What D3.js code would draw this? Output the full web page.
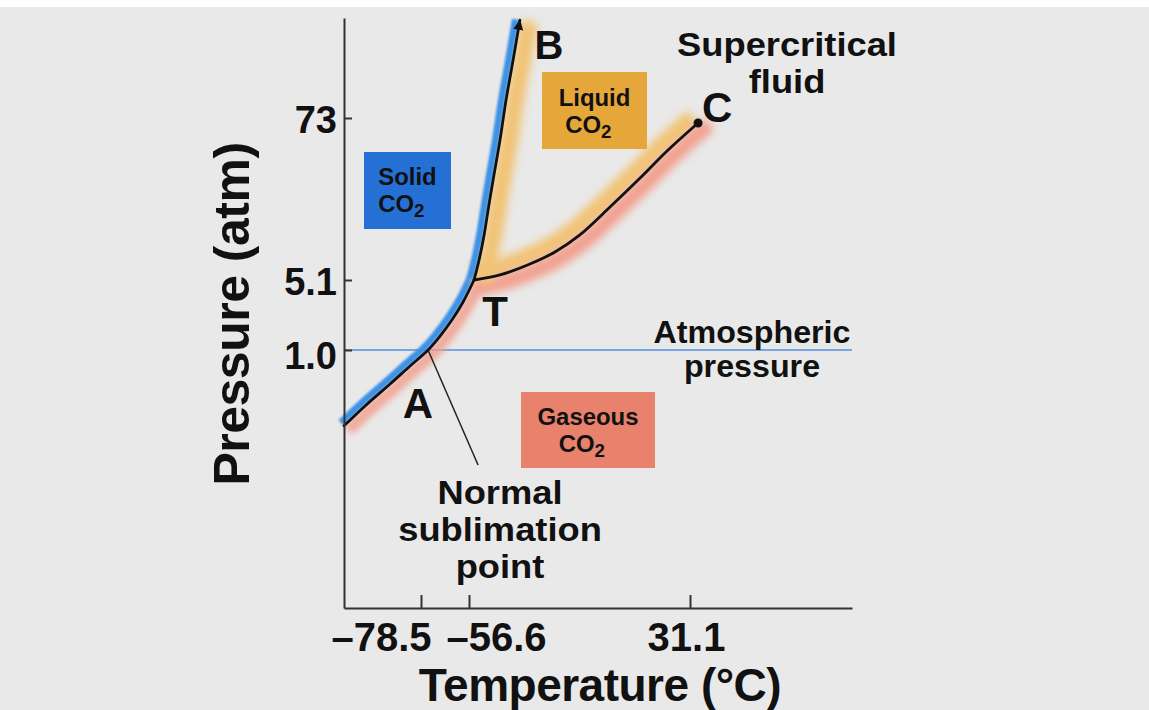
<!DOCTYPE html>
<html><head><meta charset="utf-8">
<script src="https://cdn.jsdelivr.net/npm/d3@7"></script>
<style>
body{margin:0;background:#fff}
svg{display:block}
text{font-family:"Liberation Sans",Arial,Helvetica,sans-serif;font-weight:bold;fill:#111}
</style>
</head><body>
<svg id="chart" width="1149" height="710"></svg>
<script>
// ---- data (temperature °C, pressure atm) ----
const xTicks = [-78.5, -56.6, 31.1];
const xTickLabels = ["–78.5", "–56.6", "31.1"];
const yTicks = [1.0, 5.1, 73];
const yTickLabels = ["1.0", "5.1", "73"];

const sublimationTemp = [-113.6, -104.0, -92.6, -83.5, -75.3, -69.8, -64.4, -59.3, -54.6];
const sublimationPres = [0.171, 0.272, 0.453, 0.689, 1.0, 1.385, 2.01, 3.06, 5.1];

const meltingTemp = [-54.6, -52.6, -50.6, -48.7, -46.7, -44.3, -41.9, -39.1, -36.4];
const meltingPres = [5.1, 7.08, 10.7, 17.5, 28.6, 50.8, 98.0, 189, 365];

const vaporTemp = [-54.6, -44.3, -32.4, -22.5, -12.6, -0.65, 11.3, 22.4, 34.3];
const vaporPres = [5.1, 5.54, 6.63, 8.08, 10.7, 16.9, 27.2, 43.1, 67.2];

const pointA = [-75.3, 1.0];
const pointT = [-54.6, 5.1];
const pointC = [34.3, 67.2];
const pointB = [-36.4, 365];
const leaderEnd = [-53.0, 0.0687];
const atmPressure = 1.0;

const xDomain = [-113.6, -78.5, -56.6, 31.1, 95.4];
const yDomain = [0.00246, 1, 5.1, 73, 377.5];

// ---- scales ----
const x = d3.scaleLinear().domain(xDomain).range([344, 421, 469, 690, 852]);
const y = d3.scaleLog().domain(yDomain).range([608, 350, 280, 118, 18]);

const svg = d3.select("#chart");
svg.append("rect").attr("x", 0).attr("y", 7).attr("width", 1149).attr("height", 703).attr("fill", "#e9e9e9");

const defs = svg.append("defs");
[0.8, 2, 3, 4].forEach((b, i) => {
  defs.append("filter").attr("id", "blur" + i)
    .attr("filterUnits", "userSpaceOnUse").attr("x", 0).attr("y", 0).attr("width", 1149).attr("height", 710)
    .append("feGaussianBlur").attr("stdDeviation", b);
});
defs.append("marker").attr("id", "arrow").attr("viewBox", "0 -5 10 10")
  .attr("refX", 9).attr("refY", 0).attr("markerWidth", 11).attr("markerHeight", 11)
  .attr("markerUnits", "userSpaceOnUse").attr("orient", "auto")
  .append("path").attr("d", "M0,-4.5L10,0L0,4.5Z").attr("fill", "#111");

// atmospheric pressure line
svg.append("line")
  .attr("x1", x(xDomain[0])).attr("x2", x(xDomain[4]))
  .attr("y1", y(atmPressure)).attr("y2", y(atmPressure))
  .attr("stroke", "#4f8fd8").attr("stroke-width", 1.6);

// curves
const curveGen = d3.line().x(d => x(d[0])).y(d => y(d[1])).curve(d3.curveCatmullRom.alpha(0.5));
const zip = (a, b) => a.map((v, i) => [v, b[i]]);
const subl = zip(sublimationTemp, sublimationPres);
const melt = zip(meltingTemp, meltingPres);
const vap = zip(vaporTemp, vaporPres);

const glowG = svg.append("g");
const lineG = svg.append("g");

function offsetPts(node, dist, extend) {
  const L = node.getTotalLength();
  const n = Math.max(2, Math.ceil(L / 2));
  const pts = [];
  let tx = 1, ty = 0;
  for (let i = 0; i <= n; i++) {
    const s = L * i / n;
    const p = node.getPointAtLength(s);
    const a = node.getPointAtLength(Math.max(0, s - 1.5));
    const b = node.getPointAtLength(Math.min(L, s + 1.5));
    tx = b.x - a.x; ty = b.y - a.y;
    const m = Math.hypot(tx, ty) || 1; tx /= m; ty /= m;
    pts.push([p.x - ty * dist, p.y + tx * dist]);
  }
  if (extend) {
    const last = pts[pts.length - 1];
    pts.push([last[0] + tx * extend, last[1] + ty * extend]);
  }
  return pts;
}

function drawCurve(data, glows, marker) {
  const path = lineG.append("path").attr("d", curveGen(data))
    .attr("fill", "none").attr("stroke", "#111").attr("stroke-width", 2.8)
    .attr("stroke-linecap", "round");
  if (marker) path.attr("marker-end", "url(#arrow)");
  const node = path.node();
  glows.forEach(g => {
    const pts = offsetPts(node, g.side * g.off, g.ext || 0);
    glowG.append("path").attr("d", d3.line()(pts))
      .attr("fill", "none").attr("stroke", g.color).attr("stroke-width", g.w)
      .attr("stroke-opacity", g.op || 1)
      .attr("filter", "url(#blur" + g.blur + ")");
  });
}

drawCurve(subl, [
  {side: 1, off: 6, w: 12, color: "#f1a08e", blur: 2, op: 0.85},
  {side: -1, off: 4.5, w: 7, color: "#3e92e6", blur: 0}
]);
drawCurve(vap, [
  {side: -1, off: 8, w: 17, color: "#f2c374", blur: 3},
  {side: 1, off: 8, w: 16, color: "#f2a090", blur: 3, ext: 8}
]);
drawCurve(melt, [
  {side: 1, off: 9, w: 18, color: "#f2c374", blur: 3},
  {side: -1, off: 4.5, w: 7, color: "#3e92e6", blur: 0}
], true);

// critical point dot
svg.append("circle").attr("cx", x(pointC[0])).attr("cy", y(pointC[1])).attr("r", 4.5).attr("fill", "#111");

// leader line from A
svg.append("line")
  .attr("x1", x(pointA[0])).attr("y1", y(pointA[1]))
  .attr("x2", x(leaderEnd[0])).attr("y2", y(leaderEnd[1]))
  .attr("stroke", "#222").attr("stroke-width", 1.5);

// axes
const xAxis = d3.axisBottom(x).tickValues(xTicks).tickFormat((d, i) => xTickLabels[i])
  .tickSizeInner(-13).tickSizeOuter(0).tickPadding(0);
const gx = svg.append("g").attr("transform", "translate(0,608)").call(xAxis);
const yAxis = d3.axisLeft(y).tickValues(yTicks).tickFormat((d, i) => yTickLabels[i])
  .tickSizeInner(-8).tickSizeOuter(0).tickPadding(0);
const gy = svg.append("g").attr("transform", "translate(344,0)").call(yAxis);

[gx, gy].forEach(g => {
  g.select(".domain").attr("stroke", "#333").attr("stroke-width", 2);
  g.selectAll(".tick line").attr("stroke", "#333").attr("stroke-width", 2);
  g.selectAll(".tick text").attr("fill", "#111").attr("font-family", null);
});
const xdx = [-40, 27, -4];
gx.selectAll(".tick text").attr("y", 43).attr("dy", 0).attr("dx", (d, i) => xdx[i])
  .attr("font-size", 40);
gy.selectAll(".tick text").attr("x", -7).attr("dy", (d, i) => i === 0 ? "0.48em" : "0.38em")
  .attr("font-size", 38);

// axis titles
svg.append("text").attr("x", 600).attr("y", 700.5).attr("text-anchor", "middle")
  .attr("font-size", 46).attr("letter-spacing", -0.5).text("Temperature (°C)");
svg.append("text").attr("transform", "translate(249,314) rotate(-90)").attr("text-anchor", "middle")
  .attr("font-size", 50).attr("letter-spacing", -0.5).text("Pressure (atm)");

// point labels
function ptLabel(p, dx, dy, txt, size) {
  svg.append("text").attr("x", x(p[0]) + dx).attr("y", y(p[1]) + dy)
    .attr("text-anchor", "middle").attr("font-size", size).text(txt);
}
ptLabel(pointB, 29, 39, "B", 40);
ptLabel(pointC, 19, -1, "C", 42);
ptLabel(pointT, 21, 46, "T", 42);
ptLabel(pointA, -10, 68, "A", 42);

// multi-line free text (one text element per label, slightly widened)
function lines(cx, baselines, arr, size, sx) {
  const t = svg.append("text")
    .attr("transform", `translate(${cx},${baselines[0]}) scale(${sx},1)`)
    .attr("text-anchor", "middle").attr("font-size", size);
  arr.forEach((s, i) => t.append("tspan").attr("x", 0).attr("y", baselines[i] - baselines[0]).text(s));
}
lines(787, [56, 93], ["Supercritical", "fluid"], 33, 1.1);
lines(752, [343, 377], ["Atmospheric", "pressure"], 31, 1.04);
lines(500, [504, 541, 578], ["Normal", "sublimation", "point"], 33, 1.1);

// phase boxes
function phaseBox(bx, by, bw, bh, fill, word, b1, b2) {
  svg.append("rect").attr("x", bx).attr("y", by).attr("width", bw).attr("height", bh).attr("fill", fill);
  const cx = bx + bw / 2;
  const t = svg.append("text").attr("transform", `translate(${cx},${b1}) scale(1.04,1)`)
    .attr("text-anchor", "middle").attr("font-size", 23);
  t.append("tspan").attr("x", 0).attr("y", 0).text(word);
  t.append("tspan").attr("x", -6).attr("y", b2 - b1).text("CO");
  t.append("tspan").attr("font-size", 18).attr("dy", 5).text("2");
}
phaseBox(364, 152, 87, 77, "#2470d4", "Solid", 185, 212);
phaseBox(542, 72, 105, 77, "#e6a73a", "Liquid", 106, 133);
phaseBox(521, 392, 134, 76, "#e9826c", "Gaseous", 425, 452);
</script>
</body></html>
